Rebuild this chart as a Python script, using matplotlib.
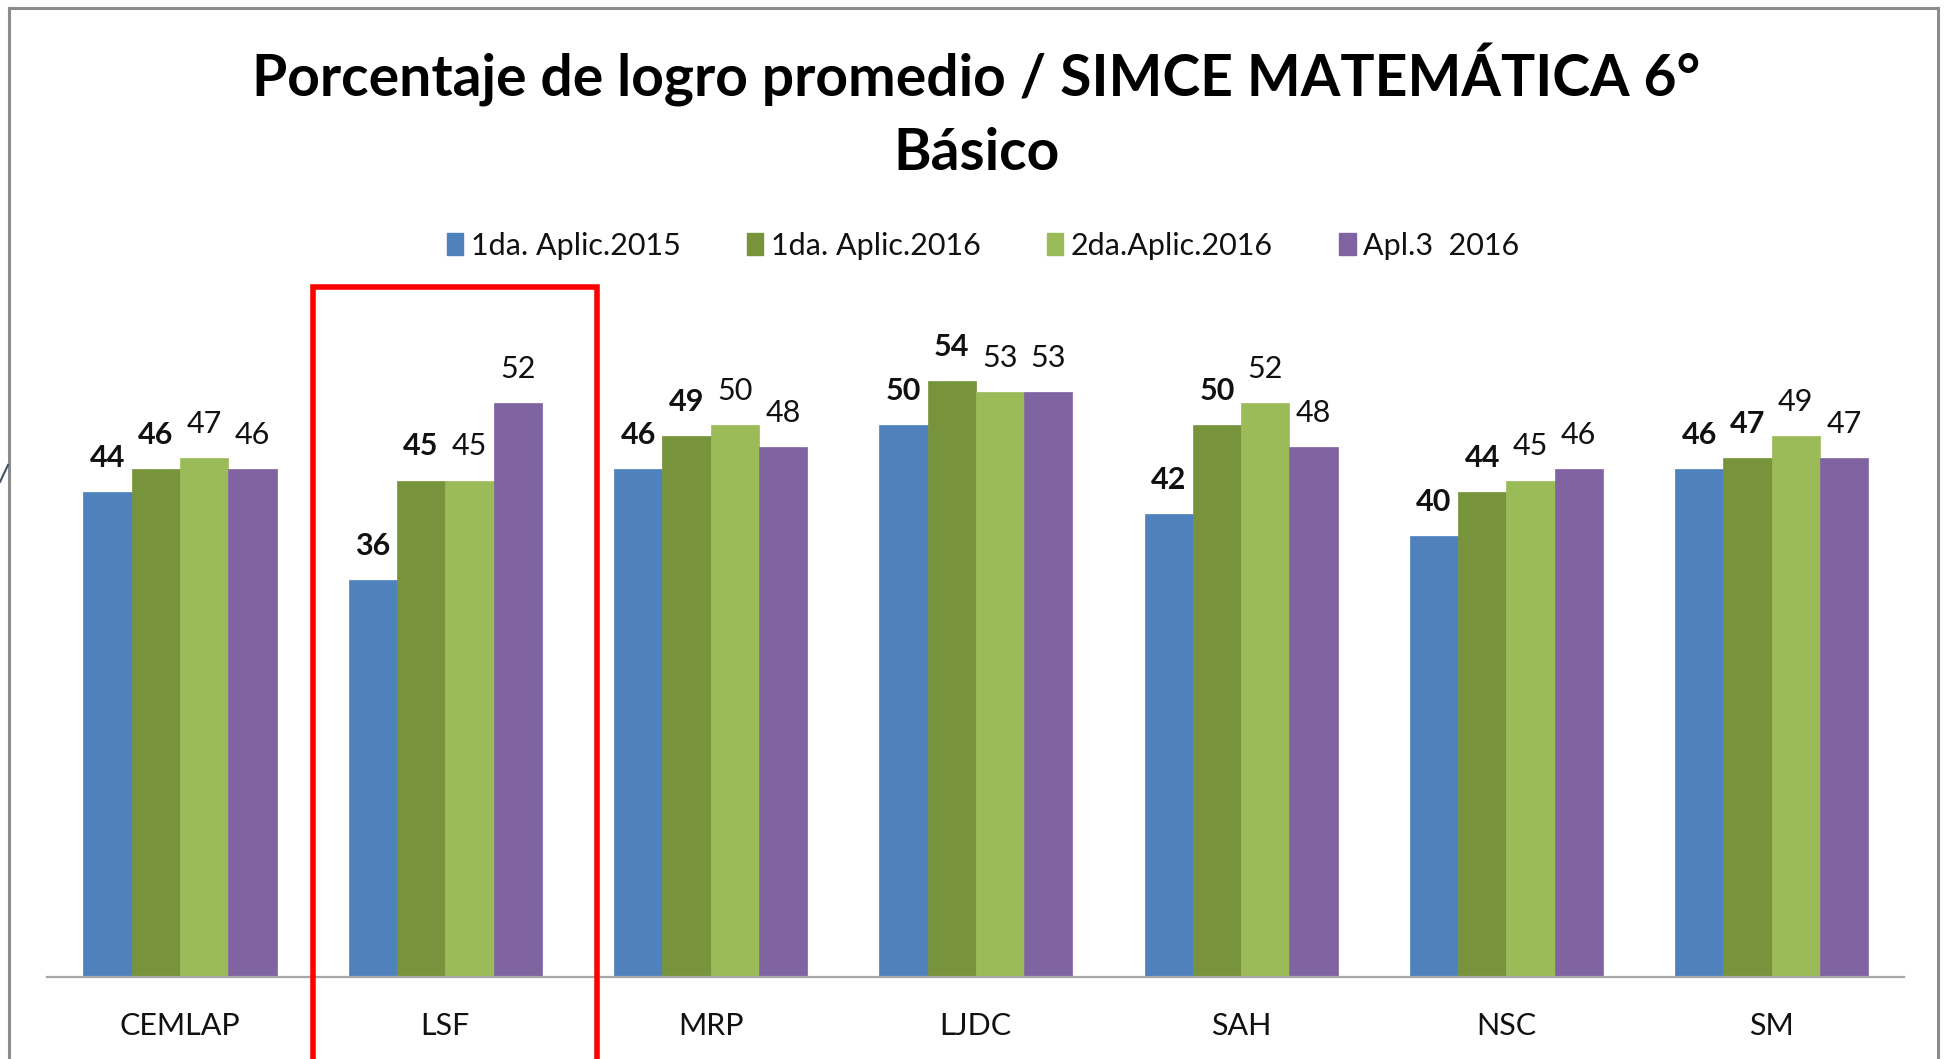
import matplotlib
matplotlib.use("Agg")
import matplotlib.pyplot as plt
import numpy as np
from matplotlib.patches import Rectangle, Patch
from matplotlib.lines import Line2D

plt.rcParams['font.family'] = ['Lato', 'DejaVu Sans']

categories = ["CEMLAP", "LSF", "MRP", "LJDC", "SAH", "NSC", "SM"]
series_names = ["1da. Aplic.2015", "1da. Aplic.2016", "2da.Aplic.2016", "Apl.3  2016"]
aplic2015_1 = [44, 36, 46, 50, 42, 40, 46]
aplic2016_1 = [46, 45, 49, 54, 50, 44, 47]
aplic2016_2 = [47, 45, 50, 53, 52, 45, 49]
apl3_2016 = [46, 52, 48, 53, 48, 46, 47]
series_values = [aplic2015_1, aplic2016_1, aplic2016_2, apl3_2016]
colors = ["#4F81BD", "#77933C", "#9BBB59", "#8064A2"]
bold_labels = [True, True, False, False]
title = "Porcentaje de logro promedio / SIMCE MATEMÁTICA 6°\nBásico"

W, H = 1945, 1059
fig = plt.figure(figsize=(W / 100, H / 100), dpi=100)
fig.patch.set_facecolor("white")

ax = fig.add_axes([47.3 / W, (H - 977) / H, 1857 / W, 662 / H])
x = np.arange(len(categories))
bw = 0.182
for i, (vals, c) in enumerate(zip(series_values, colors)):
    pos = x + (i - 1.5) * bw
    bars = ax.bar(pos, vals, width=bw, color=c, edgecolor=c, linewidth=0.5, zorder=2)
    for b, v in zip(bars, vals):
        ax.annotate(str(v), (b.get_x() + b.get_width() / 2, v), xytext=(0, 24.5),
                    textcoords="offset points", ha="center", va="center",
                    fontsize=22, fontweight="bold" if bold_labels[i] else "normal",
                    color="#111111", annotation_clip=False)

ax.set_xlim(-0.5, len(categories) - 0.5)
ax.set_ylim(0, 60)
for s in ["top", "right", "left"]:
    ax.spines[s].set_visible(False)
ax.spines["bottom"].set_color("#A6A6A6")
ax.spines["bottom"].set_linewidth(1.6)
ax.set_yticks([])
ax.set_xticks(x)
ax.set_xticklabels(categories, fontsize=22, color="#111111")
ax.tick_params(axis="x", length=0, pad=25.5)

# Title
fig.text(976 / W, 1 - 111.5 / H, title, ha="center", va="center", fontsize=41,
         fontweight="bold", linespacing=1.45, color="black")

# Legend
handles = [Patch(facecolor=c, edgecolor=c) for c in colors]
fig.legend(handles, series_names, loc="center", bbox_to_anchor=(983 / W, 1 - 245.5 / H),
           ncol=4, frameon=False, fontsize=22, handlelength=0.55, handleheight=0.7,
           handletextpad=0.25, columnspacing=2.15, labelcolor="#111111")

# Chart border (gray), open at the bottom
border_kw = dict(transform=fig.transFigure, color="#8C8C8C", linewidth=2.2)
fig.add_artist(Line2D([9 / W, 9 / W], [0, 1 - 8 / H], **border_kw))
fig.add_artist(Line2D([9 / W, 1938 / W], [1 - 8 / H, 1 - 8 / H], **border_kw))
fig.add_artist(Line2D([1938 / W, 1938 / W], [1 - 8 / H, 0], **border_kw))

# Stray connector line at left edge
fig.add_artist(Line2D([0, 8 / W], [1 - 482 / H, 1 - 465 / H], transform=fig.transFigure,
                      color="#44546A", linewidth=1.5))

# Red highlight rectangle around LSF
fig.add_artist(Rectangle((312.5 / W, -0.05), (597 - 312.5) / W, (1 - 287 / H) + 0.05,
                         transform=fig.transFigure, fill=False, edgecolor="#FF0000",
                         linewidth=4))

fig.savefig("out.png", dpi=100, facecolor="white")
